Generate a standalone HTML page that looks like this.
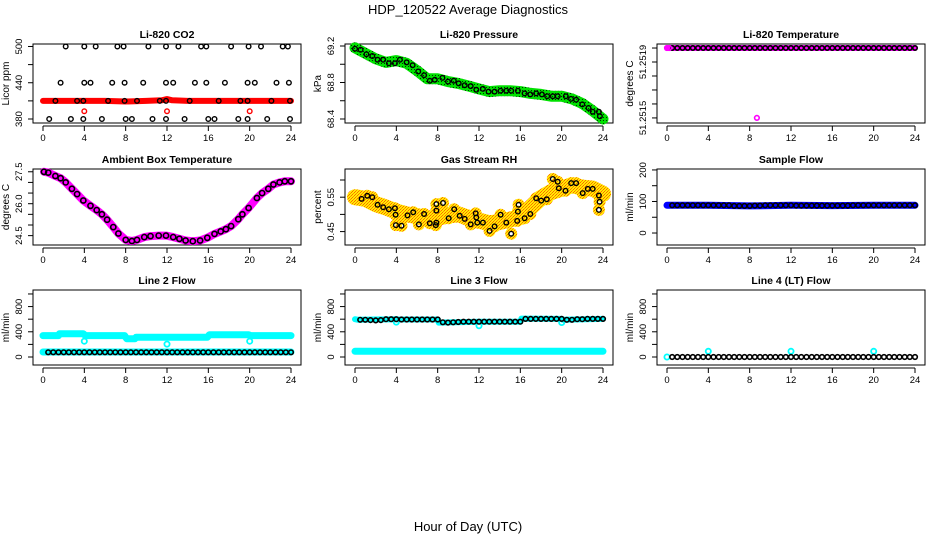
<!DOCTYPE html>
<html><head><meta charset="utf-8"><style>
body{margin:0;background:#fff}
svg{display:block;font-family:"Liberation Sans",sans-serif}
</style></head><body>
<svg id="chart" width="936" height="540" viewBox="0 0 936 540" xmlns="http://www.w3.org/2000/svg">
<defs>
<pattern id="greenPat" patternUnits="userSpaceOnUse" width="3" height="3"><rect width="3" height="3" fill="#00e000"/><rect width="1" height="1" fill="#003300"/></pattern>
<pattern id="rhPat" patternUnits="userSpaceOnUse" width="3" height="3"><rect width="3" height="3" fill="#ffee00"/><rect width="1" height="1" fill="#ff6600"/><rect x="2" y="1" width="1" height="1" fill="#ff8800"/><rect x="1" y="2" width="1" height="1" fill="#ff6600"/></pattern>
</defs>
<text x="468" y="14" text-anchor="middle" font-size="13">HDP_120522  Average Diagnostics</text>
<text x="468" y="531" text-anchor="middle" font-size="13">Hour of Day (UTC)</text>
<g id="plots"></g>
</svg>
<script>
// ---- data ----
const xTicks=[0,4,8,12,16,20,24];
const halfHours=[0.5,1,1.5,2,2.5,3,3.5,4,4.5,5,5.5,6,6.5,7,7.5,8,8.5,9,9.5,10,10.5,11,11.5,12,12.5,13,13.5,14,14.5,15,15.5,16,16.5,17,17.5,18,18.5,19,19.5,20,20.5,21,21.5,22,22.5,23,23.5,24];

// CO2
const co2BlackHours=[2.2,4.0,5.1,7.2,7.8,10.2,11.9,13.1,15.3,15.8,18.2,19.9,21.1,23.2,23.7, 1.7,4.0,4.6,6.7,7.9,9.7,11.9,12.6,14.7,15.8,17.6,19.8,20.5,22.6,23.8, 1.2,3.3,3.9,6.3,7.9,9.1,11.3,11.9,14.2,17.0,19.1,19.8,22.1,23.9, 0.6,2.7,3.9,5.7,8.0,8.6,10.6,11.9,13.7,16.0,16.6,18.9,19.8,21.7,23.9];
const co2BlackValues=[500,500,500,500,500,500,500,500,500,500,500,500,500,500,500, 440,440,440,440,440,440,440,440,440,440,440,440,440,440,440, 410,410,410,410,410,410,410,410,410,410,410,410,410,410, 380,380,380,380,380,380,380,380,380,380,380,380,380,380,380];
const co2RedHours=[0,2,4,6,8,10,11.5,12,12.5,14,16,18,20,22,24];
const co2RedValues=[410,410,410,410,409,410,411,413,411,410,410,410,410,410,410];
const co2RedOutHours=[4,12,20];
const co2RedOutValues=[393,393,393];

// Pressure
const presHours=[0,0.54,1.1,1.67,2.19,2.73,3.28,3.86,4.35,4.99,5.57,6.12,6.69,7.24,7.72,8.46,9.0,9.56,10.04,10.62,11.2,11.74,12.38,12.93,13.51,14.09,14.64,15.12,15.76,16.41,16.96,17.54,18.09,18.6,19.14,19.62,20.4,20.9,21.4,22.0,22.6,23.0,23.6,23.7];
const presValues=[69.17,69.16,69.11,69.09,69.05,69.05,69.01,69.01,69.05,69.02,68.99,68.92,68.88,68.82,68.83,68.85,68.81,68.82,68.79,68.77,68.76,68.72,68.73,68.70,68.70,68.71,68.71,68.71,68.71,68.68,68.67,68.68,68.67,68.65,68.65,68.65,68.65,68.62,68.61,68.56,68.52,68.48,68.48,68.43];
const presBandHours=[0,1,2,3,4,5,6,7,8,9,10,11,12,13,14,15,16,17,18,19,20,21,22,23,24];
const presBandValues=[69.18,69.12,69.06,69.02,69.04,69.01,68.93,68.84,68.84,68.81,68.79,68.76,68.73,68.70,68.71,68.71,68.70,68.68,68.67,68.65,68.65,68.62,68.57,68.49,68.40];

// Li-820 temperature
const tempValues=[51.2519,51.2519,51.2519,51.2519,51.2519,51.2519,51.2519,51.2519,51.2519,51.2519,51.2519,51.2519,51.2519,51.2519,51.2519,51.2519,51.2519,51.2519,51.2519,51.2519,51.2519,51.2519,51.2519,51.2519,51.2519,51.2519,51.2519,51.2519,51.2519,51.2519,51.2519,51.2519,51.2519,51.2519,51.2519,51.2519,51.2519,51.2519,51.2519,51.2519,51.2519,51.2519,51.2519,51.2519,51.2519,51.2519,51.2519,51.2519];
const tempPinkHours=[0,0.2,8.7];
const tempPinkValues=[51.2519,51.2519,51.2515];

// Ambient
const ambHours=[0.1,0.5,1.2,1.7,2.2,2.8,3.3,3.9,4.6,5.2,5.7,6.2,6.8,7.3,8.0,8.6,9.1,9.8,10.4,11.2,11.9,12.6,13.2,13.8,14.5,15.2,15.9,16.6,17.2,17.7,18.2,18.9,19.3,19.9,20.7,21.2,21.8,22.3,22.9,23.4,24.0];
const ambValues=[27.5,27.46,27.3,27.2,27.0,26.7,26.45,26.15,25.9,25.7,25.5,25.25,24.9,24.6,24.3,24.25,24.3,24.43,24.48,24.5,24.5,24.43,24.35,24.27,24.24,24.27,24.4,24.58,24.7,24.8,24.95,25.27,25.5,25.8,26.27,26.5,26.7,26.9,27.0,27.05,27.05];

// Gas stream RH
const rhHours=[0.64,1.19,1.67,2.19,2.73,3.28,3.86,3.93,3.96,4.5,5.08,5.63,6.18,6.69,7.24,7.82,7.88,7.88,7.88,8.52,9.07,9.6,10.13,10.62,11.2,11.68,11.74,11.84,12.38,13.03,13.51,14.09,14.64,15.12,15.7,15.76,15.83,16.41,16.96,17.54,18.02,18.56,19.14,19.62,19.72,20.37,20.92,21.4,22.04,22.53,23.0,23.6,23.67,23.6];
const rhValues=[0.545,0.554,0.550,0.528,0.521,0.515,0.518,0.499,0.469,0.467,0.497,0.506,0.471,0.501,0.474,0.469,0.476,0.511,0.530,0.533,0.489,0.515,0.496,0.487,0.471,0.503,0.491,0.476,0.476,0.452,0.465,0.499,0.476,0.444,0.481,0.508,0.528,0.489,0.501,0.547,0.540,0.544,0.603,0.595,0.576,0.569,0.591,0.591,0.562,0.574,0.574,0.555,0.537,0.513];
const rhBandHours=[0,1,2,3,4,5,6,7,8,9,10,11,12,13,14,15,16,17,18,19,20,21,22,23,24];
const rhBandValues=[0.550,0.545,0.530,0.520,0.508,0.500,0.495,0.488,0.490,0.497,0.500,0.490,0.482,0.474,0.478,0.485,0.492,0.520,0.548,0.565,0.575,0.585,0.578,0.575,0.560];

// Sample flow
const sampleValues=[88,88,88,88,88,88,88,88,88,88,88,88,86,86,86,86,87,87,88,88,88,88,88,88,87,87,87,87,87,87,87,87,87,87,87,88,88,88,88,88,88,88,88,88,88,88,88,88];
const sampleBandHours=[0,4,8,12,16,20,24];
const sampleBandValues=[88,88,86,88,87,88,88];

// Line 2 flow
const line2Values=[75,75,75,75,75,75,75,75,75,75,75,75,75,75,75,75,75,75,75,75,75,75,75,75,75,75,75,75,75,75,75,75,75,75,75,75,75,75,75,75,75,75,75,75,75,75,75,75];
const line2BandHours=[0,1.5,1.6,3.9,4.1,7.9,8.1,8.9,9.0,11.9,12.1,15.9,16.1,19.9,20.1,24];
const line2BandValues=[339,339,370,370,339,339,291,291,312,312,312,312,354,354,339,339];
const line2LowBandHours=[0,24];
const line2LowBandValues=[80,80];
const line2DipHours=[4,12,20];
const line2DipValues=[250,205,250];

// Line 3 flow
const line3Values=[590,590,585,580,585,600,600,600,595,595,595,595,595,595,595,595,550,545,550,555,560,560,560,560,560,560,560,560,560,560,560,560,605,605,605,605,605,605,605,605,590,590,600,600,605,605,605,605];
const line3BandHours=[0,0.3,4,4.1,8,8.1,12,12.1,16,16.1,20,20.1,24];
const line3BandValues=[600,590,600,595,595,545,560,560,560,610,605,590,605];
const line3LowBandHours=[0,24];
const line3LowBandValues=[90,90];
const line3DipHours=[4,12,20];
const line3DipValues=[553,495,547];

// Line 4 flow
const line4Values=[0,0,0,0,0,0,0,0,0,0,0,0,0,0,0,0,0,0,0,0,0,0,0,0,0,0,0,0,0,0,0,0,0,0,0,0,0,0,0,0,0,0,0,0,0,0,0,0];
const line4CyanHours=[0,4,12,20];
const line4CyanValues=[0,90,90,90];

// ---- rendering ----
const NS='http://www.w3.org/2000/svg';
const root=document.getElementById('plots');
const rowTop=[44,169,290], rowBot=[123,245,365];
const flowTicks=[0,200,400,600,800,1000];
const panels=[
 {c:0,r:0,title:'Li-820 CO2',ylab:'Licor ppm',ymin:373.4,ymax:504.1,ticks:[380,410,440,470,500],labels:{380:'380',440:'440',500:'500'}},
 {c:1,r:0,title:'Li-820 Pressure',ylab:'kPa',ymin:68.356,ymax:69.222,ticks:[68.4,68.6,68.8,69.0,69.2],labels:{'68.4':'68.4','68.8':'68.8','69.2':'69.2'}},
 {c:2,r:0,title:'Li-820 Temperature',ylab:'degrees C',ymin:51.251471,ymax:51.251923,ticks:[51.2519,51.25182,51.25174,51.25166,51.25158,51.2515],labels:{'51.25182':'51.2519','51.2515':'51.2515'}},
 {c:0,r:1,title:'Ambient Box Temperature',ylab:'degrees C',ymin:24.06,ymax:27.63,ticks:[24.5,25,25.5,26,26.5,27,27.5],labels:{'24.5':'24.5','26':'26.0','27.5':'27.5'}},
 {c:1,r:1,title:'Gas Stream RH',ylab:'percent',ymin:0.411,ymax:0.632,ticks:[0.45,0.5,0.55,0.6],labels:{'0.45':'0.45','0.55':'0.55'}},
 {c:2,r:1,title:'Sample Flow',ylab:'ml/min',ymin:-38,ymax:203,ticks:[0,50,100,150,200],labels:{0:'0',100:'100',200:'200'}},
 {c:0,r:2,title:'Line 2 Flow',ylab:'ml/min',ymin:-127,ymax:1063,ticks:flowTicks,labels:{0:'0',400:'400',800:'800'}},
 {c:1,r:2,title:'Line 3 Flow',ylab:'ml/min',ymin:-127,ymax:1063,ticks:flowTicks,labels:{0:'0',400:'400',800:'800'}},
 {c:2,r:2,title:'Line 4 (LT) Flow',ylab:'ml/min',ymin:-127,ymax:1063,ticks:flowTicks,labels:{0:'0',400:'400',800:'800'}}
];
function el(tag,attrs,parent){const e=document.createElementNS(NS,tag);for(const k in attrs)e.setAttribute(k,attrs[k]);(parent||root).appendChild(e);return e;}
function xs(p,h){return 43+312*p.c+h*(248/24);}
function ys(p,v){const t=rowTop[p.r],b=rowBot[p.r];return t+(p.ymax-v)/(p.ymax-p.ymin)*(b-t);}
function band(g,p,hours,vals,color,w,name){
 const pts=hours.map((h,i)=>xs(p,h).toFixed(1)+','+ys(p,vals[i]).toFixed(1)).join(' ');
 const e=el('polyline',{points:pts,fill:'none',stroke:color,'stroke-width':w,'stroke-linejoin':'round','stroke-linecap':'round'},g);
 
 
}
function pts(g,p,hours,vals,color,name,r,sw){
 hours.forEach((h,i)=>{
  const e=el('circle',{cx:xs(p,h).toFixed(1),cy:ys(p,vals[i]).toFixed(1),r:r||2.3,fill:'none',stroke:color,'stroke-width':sw||1.4},g);
  
  
 });
}
const groups=[];
panels.forEach((p,idx)=>{
 const g=el('g',{});
 
 
 groups.push(g);
 const L=33+312*p.c,R=301+312*p.c,T=rowTop[p.r],B=rowBot[p.r];
 const box=el('rect',{x:L,y:T,width:R-L,height:B-T,fill:'none',stroke:'#000','stroke-width':1},g);
 
 
 const tt=el('text',{x:(L+R)/2,y:T-6,'text-anchor':'middle','font-size':10.5,'font-weight':'bold'},g);
 tt.textContent=p.title;
 
 
 const xa=el('line',{x1:xs(p,0),x2:xs(p,24),y1:B+3,y2:B+3,stroke:'#000'},g);
 
 
 xTicks.forEach(t=>{
  const x=xs(p,t);
  const tk=el('line',{x1:x,x2:x,y1:B+3,y2:B+8,stroke:'#000'},g);
  
  
  const lb=el('text',{x:x,y:B+18,'text-anchor':'middle','font-size':9.5},g);
  lb.textContent=t;
  
  
 });
 const yTop=ys(p,p.ticks[p.ticks.length-1]),yBot=ys(p,p.ticks[0]);
 const ya=el('line',{x1:L,x2:L,y1:Math.min(yTop,yBot),y2:Math.max(yTop,yBot),stroke:'#000'},g);
 
 
 p.ticks.forEach(t=>{
  const y=ys(p,t);
  const tk=el('line',{x1:L-5,x2:L,y1:y,y2:y,stroke:'#000'},g);
  
  
  const key=String(t);
  if(p.labels[key]!==undefined){
   const lx=L-11;
   const lb=el('text',{x:lx,y:y,'text-anchor':'middle','font-size':9.5,transform:'rotate(-90 '+lx+' '+y+')'},g);
   lb.textContent=p.labels[key];
   
   
  }
 });
 const ax=L-24, ay=(T+B)/2;
 const yl=el('text',{x:ax,y:ay,'text-anchor':'middle','font-size':10,transform:'rotate(-90 '+ax+' '+ay+')'},g);
 yl.textContent=p.ylab;
 
 
});
(function(){const p=panels[0],g=groups[0];
 band(g,p,co2RedHours,co2RedValues,'#ff0000',6,'co2-red-band');
 pts(g,p,co2RedOutHours,co2RedOutValues,'#ff0000','co2-red-point');
 pts(g,p,co2BlackHours,co2BlackValues,'#000','co2-black-point');})();
(function(){const p=panels[1],g=groups[1];
 band(g,p,presBandHours,presBandValues,'url(#greenPat)',11,'pressure-band');
 pts(g,p,presHours,presValues,'#000','pressure-point');})();
(function(){const p=panels[2],g=groups[2];
 band(g,p,[0,24],[51.2519,51.2519],'#ff00ff',6,'temperature-band');
 pts(g,p,halfHours,tempValues,'#000','temperature-point',2.2,1.6);
 pts(g,p,tempPinkHours,tempPinkValues,'#ff00ff','temperature-pink-point',2.3,1.6);})();
(function(){const p=panels[3],g=groups[3];
 band(g,p,ambHours,ambValues,'#ff00ff',8,'ambient-band');
 pts(g,p,ambHours,ambValues,'#000','ambient-point',2.6,1.6);})();
(function(){const p=panels[4],g=groups[4];
 band(g,p,rhBandHours,rhBandValues,'url(#rhPat)',16,'rh-band');
 pts(g,p,rhHours,rhValues,'url(#rhPat)','rh-cloud',4,4);
 pts(g,p,rhHours,rhValues,'#000','rh-point');})();
(function(){const p=panels[5],g=groups[5];
 band(g,p,sampleBandHours,sampleBandValues,'#0000ff',7,'sample-band');
 pts(g,p,halfHours,sampleValues,'#000','sample-point',2.3,1.6);})();
(function(){const p=panels[6],g=groups[6];
 band(g,p,line2BandHours,line2BandValues,'#00ffff',7,'line2-band');
 band(g,p,line2LowBandHours,line2LowBandValues,'#00ffff',7,'line2-low-band');
 pts(g,p,line2DipHours,line2DipValues,'#00ffff','line2-dip-point',2.6,1.8);
 pts(g,p,halfHours,line2Values,'#000','line2-point',2.3,1.6);})();
(function(){const p=panels[7],g=groups[7];
 band(g,p,line3BandHours,line3BandValues,'#00ffff',6,'line3-band');
 band(g,p,line3LowBandHours,line3LowBandValues,'#00ffff',7,'line3-low-band');
 pts(g,p,line3DipHours,line3DipValues,'#00ffff','line3-dip-point',2.6,1.8);
 pts(g,p,halfHours,line3Values,'#000','line3-point',2.3,1.6);})();
(function(){const p=panels[8],g=groups[8];
 pts(g,p,line4CyanHours,line4CyanValues,'#00ffff','line4-cyan-point',2.6,1.8);
 pts(g,p,halfHours,line4Values,'#000','line4-point',2.3,1.6);})();
</script>
</body></html>
